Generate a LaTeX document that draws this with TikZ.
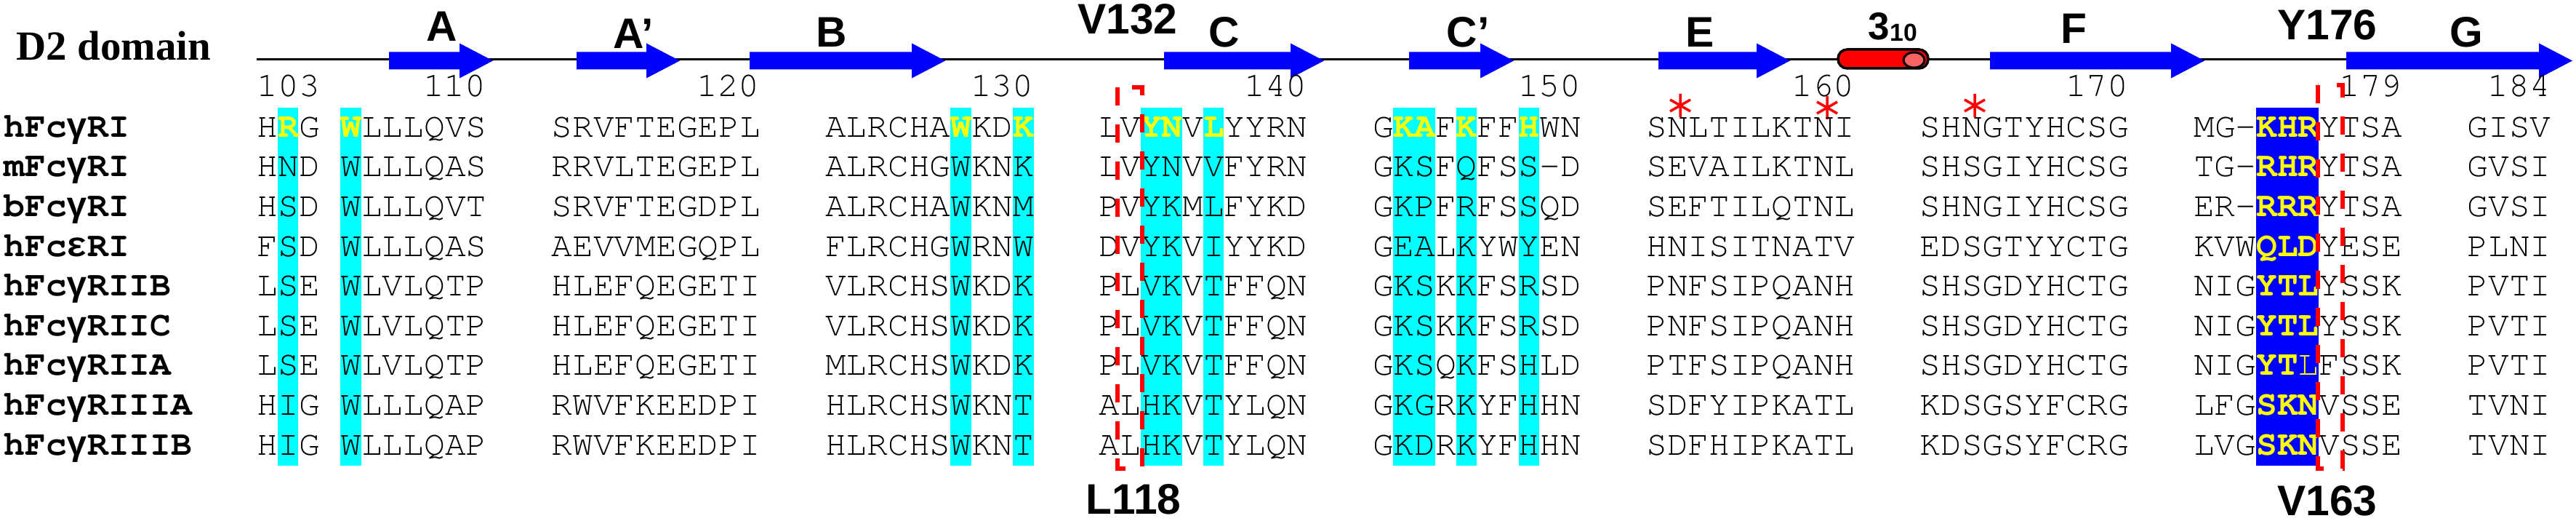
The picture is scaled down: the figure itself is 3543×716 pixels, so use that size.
\documentclass[tikz,border=0pt]{standalone}
\usepackage{fontspec}
\newfontfamily\seqfont{TeX Gyre Cursor}
\newfontfamily\greekfont{Liberation Mono}
\newfontfamily\labfont{Liberation Sans}
\newfontfamily\titlefont{Liberation Serif}
\definecolor{helixend}{RGB}{248,100,100}
\definecolor{aqua}{RGB}{0,255,255}
\definecolor{pureblue}{RGB}{0,0,255}
\definecolor{pureyellow}{RGB}{255,255,0}
\definecolor{purered}{RGB}{255,0,0}
\newcommand\hl[1]{{\color{pureyellow}\bfseries #1}}
\newcommand\gap{\hspace{8.942mm}}
\newcommand\gr[1]{{\greekfont\bfseries #1}}

\tikzset{
seq/.style={font=\seqfont\fontsize{13.61}{16}\selectfont, anchor=base west, inner sep=0pt},
species/.style={font=\seqfont\bfseries\fontsize{13.61}{16}\selectfont, anchor=base west, inner sep=0pt},
numlab/.style={font=\seqfont\fontsize{13.61}{16}\selectfont, anchor=base east, inner sep=0pt},
sslab/.style={font=\labfont\bfseries\fontsize{16.7}{18}\selectfont, anchor=base, inner sep=0pt},
strand/.style={fill=pureblue},
conserved/.style={fill=aqua},
contact/.style={fill=pureblue},
hotspot/.style={draw=purered, line width=0.55mm, dash pattern=on 2.5mm off 2.6mm},
astline/.style={draw=purered, line width=0.35mm}
}

\begin{document}
\begin{tikzpicture}[x=0.1mm, y=-0.1mm]

\useasboundingbox (0,0) rectangle (3543,716);

% TITULO
\node[font=\titlefont\bfseries\fontsize{16.2}{18}\selectfont, anchor=base west, inner sep=0pt]
(title) at (22,83) {D2 domain};

% COLUNAS CONSERVADAS
\fill[conserved] (381.7,147.7) rectangle +(28.7,492.3);
\fill[conserved] (467.8,147.7) rectangle +(28.7,492.3);
\fill[conserved] (1306.9,147.7) rectangle +(28.7,492.3);
\fill[conserved] (1393.1,147.7) rectangle +(28.7,492.3);
\fill[conserved] (1568.6,147.7) rectangle +(57.4,492.3);
\fill[conserved] (1654.7,147.7) rectangle +(28.7,492.3);
\fill[conserved] (1916.4,147.7) rectangle +(57.4,492.3);
\fill[conserved] (2002.5,147.7) rectangle +(28.7,492.3);
\fill[conserved] (2088.6,147.7) rectangle +(28.7,492.3);
\fill[contact] (3103.3,147.7) rectangle +(86.1,492.3);

% TOPOLOGIA
\coordinate (tstart) at (353,82);
\coordinate (tend) at (3300,82);
\draw[line width=0.3mm] (tstart) -- (tend);

\fill[strand] (535,71.5) -- (632,71.5) -- (632,59.5) -- (678,83.5) -- (632,107.5) -- (632,95.5) -- (535,95.5) -- cycle;
\fill[strand] (793,71.5) -- (889,71.5) -- (889,59.5) -- (935,83.5) -- (889,107.5) -- (889,95.5) -- (793,95.5) -- cycle;
\fill[strand] (1031,71.5) -- (1254,71.5) -- (1254,59.5) -- (1300,83.5) -- (1254,107.5) -- (1254,95.5) -- (1031,95.5) -- cycle;
\fill[strand] (1601,71.5) -- (1775,71.5) -- (1775,59.5) -- (1821,83.5) -- (1775,107.5) -- (1775,95.5) -- (1601,95.5) -- cycle;
\fill[strand] (1938,71.5) -- (2036,71.5) -- (2036,59.5) -- (2082,83.5) -- (2036,107.5) -- (2036,95.5) -- (1938,95.5) -- cycle;
\fill[strand] (2281,71.5) -- (2416,71.5) -- (2416,59.5) -- (2462,83.5) -- (2416,107.5) -- (2416,95.5) -- (2281,95.5) -- cycle;
\fill[strand] (2737,71.5) -- (2986,71.5) -- (2986,59.5) -- (3032,83.5) -- (2986,107.5) -- (2986,95.5) -- (2737,95.5) -- cycle;
\fill[strand] (3227,71.5) -- (3492,71.5) -- (3492,59.5) -- (3538,83.5) -- (3492,107.5) -- (3492,95.5) -- (3227,95.5) -- cycle;

% HELICE 3-10
\draw[line width=0.35mm, fill=purered, rounded corners=1.25mm]
(2528,68) rectangle (2652,94);
\draw[line width=0.3mm, fill=helixend]
(2632.5,82.5) ellipse [x radius=1.45mm, y radius=1.05mm];

% ROTULOS DA ESTRUTURA
\node[sslab] (lA) at (608,57) {A};
\node[sslab] (lAp) at (871,67) {A’};
\node[sslab] (lB) at (1144,65) {B};
\node[sslab] (v132) at (1551,47) {V132};
\node[sslab] (lC) at (1684,65) {C};
\node[sslab] (lCp) at (2019,65) {C’};
\node[sslab] (lE) at (2338,65) {E};
\node[font=\labfont\bfseries\fontsize{15.1}{17}\selectfont, anchor=base west, inner sep=0pt]
(l310) at (2569,55) {3\raisebox{-0.2mm}{\fontsize{9.6}{10}\selectfont 10}};
\node[sslab] (lF) at (2852,60) {F};
\node[sslab] (y176) at (3201,55) {Y176};
\node[sslab] (lG) at (3392,65) {G};

% NUMERACAO
\node[numlab, anchor=base west] (n103) at (353,133) {103};
\node[numlab] (n110) at (668.8,133) {110};
\node[numlab] (n120) at (1045.3,133) {120};
\node[numlab] (n130) at (1421.8,133) {130};
\node[numlab] (n140) at (1798.3,133) {140};
\node[numlab] (n150) at (2174.8,133) {150};
\node[numlab] (n160) at (2551.3,133) {160};
\node[numlab] (n170) at (2927.8,133) {170};
\node[numlab] (n179) at (3304.3,133) {179};
\node[numlab] (n184) at (3508.5,133) {184};

% ASTERISCOS
\coordinate (s1) at (2311,145);
\coordinate (s2) at (2513,148);
\coordinate (s3) at (2716,145);
\draw[astline] (s1) +(0,-16) -- +(0,16) (s1) +(-14,-8) -- +(14,8) (s1) +(-14,8) -- +(14,-8);
\draw[astline] (s2) +(0,-16) -- +(0,16) (s2) +(-14,-8) -- +(14,8) (s2) +(-14,8) -- +(14,-8);
\draw[astline] (s3) +(0,-16) -- +(0,16) (s3) +(-14,-8) -- +(14,8) (s3) +(-14,8) -- +(14,-8);

% SEQUENCIAS
\node[species] (sp1) at (5,188.3) {hFc\gr{γ}RI};
\node[seq] (r1) at (353,188.3)
{H\hl{R}G \hl{W}LLLQVS\gap SRVFTEGEPL\gap ALRCHA\hl{W}KD\hl{K}\gap LV\hl{YN}V\hl{L}YYRN\gap G\hl{KA}F\hl{K}FF\hl{H}WN\gap SNLTILKTNI\gap SHNGTYHCSG\gap MG-\hl{KHR}YTSA\gap GISV};

\node[species] (sp2) at (5,242.9) {mFc\gr{γ}RI};
\node[seq] (r2) at (353,242.9)
{HND WLLLQAS\gap RRVLTEGEPL\gap ALRCHGWKNK\gap LVYNVVFYRN\gap GKSFQFSS-D\gap SEVAILKTNL\gap SHSGIYHCSG\gap TG-\hl{RHR}YTSA\gap GVSI};

\node[species] (sp3) at (5,297.5) {bFc\gr{γ}RI};
\node[seq] (r3) at (353,297.5)
{HSD WLLLQVT\gap SRVFTEGDPL\gap ALRCHAWKNM\gap PVYKMLFYKD\gap GKPFRFSSQD\gap SEFTILQTNL\gap SHNGIYHCSG\gap ER-\hl{RRR}YTSA\gap GVSI};

\node[species] (sp4) at (5,352.1) {hFc\gr{ε}RI};
\node[seq] (r4) at (353,352.1)
{FSD WLLLQAS\gap AEVVMEGQPL\gap FLRCHGWRNW\gap DVYKVIYYKD\gap GEALKYWYEN\gap HNISITNATV\gap EDSGTYYCTG\gap KVW\hl{QLD}YESE\gap PLNI};

\node[species] (sp5) at (5,406.7) {hFc\gr{γ}RIIB};
\node[seq] (r5) at (353,406.7)
{LSE WLVLQTP\gap HLEFQEGETI\gap VLRCHSWKDK\gap PLVKVTFFQN\gap GKSKKFSRSD\gap PNFSIPQANH\gap SHSGDYHCTG\gap NIG\hl{YTL}YSSK\gap PVTI};

\node[species] (sp6) at (5,461.3) {hFc\gr{γ}RIIC};
\node[seq] (r6) at (353,461.3)
{LSE WLVLQTP\gap HLEFQEGETI\gap VLRCHSWKDK\gap PLVKVTFFQN\gap GKSKKFSRSD\gap PNFSIPQANH\gap SHSGDYHCTG\gap NIG\hl{YTL}YSSK\gap PVTI};

\node[species] (sp7) at (5,515.9) {hFc\gr{γ}RIIA};
\node[seq] (r7) at (353,515.9)
{LSE WLVLQTP\gap HLEFQEGETI\gap MLRCHSWKDK\gap PLVKVTFFQN\gap GKSQKFSHLD\gap PTFSIPQANH\gap SHSGDYHCTG\gap NIG\hl{YT}{\color{pureyellow}L}FSSK\gap PVTI};

\node[species] (sp8) at (5,570.5) {hFc\gr{γ}RIIIA};
\node[seq] (r8) at (353,570.5)
{HIG WLLLQAP\gap RWVFKEEDPI\gap HLRCHSWKNT\gap ALHKVTYLQN\gap GKGRKYFHHN\gap SDFYIPKATL\gap KDSGSYFCRG\gap LFG\hl{SKN}VSSE\gap TVNI};

\node[species] (sp9) at (5,625.1) {hFc\gr{γ}RIIIB};
\node[seq] (r9) at (353,625.1)
{HIG WLLLQAP\gap RWVFKEEDPI\gap HLRCHSWKNT\gap ALHKVTYLQN\gap GKDRKYFHHN\gap SDFHIPKATL\gap KDSGSYFCRG\gap LVG\hl{SKN}VSSE\gap TVNI};

% CAIXAS TRACEJADAS
\draw[hotspot] (1537,120) rectangle (1571,644);
\draw[hotspot] (3188,117) rectangle (3222,644);

\node[sslab] (l118) at (1559,707) {L118};
\node[sslab] (v163) at (3201,709) {V163};

\end{tikzpicture}
\end{document}
